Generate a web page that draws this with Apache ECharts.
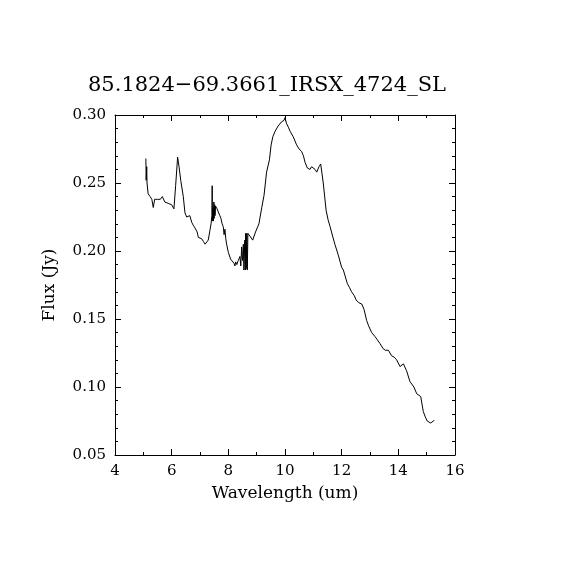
<!DOCTYPE html>
<html>
<head>
<meta charset="utf-8">
<script src="https://cdn.jsdelivr.net/npm/echarts@6/dist/echarts.min.js"></script>
<style>
  html, body { margin: 0; padding: 0; background: #fff; }
  #chart { width: 570px; height: 570px; }
</style>
</head>
<body>
<div id="chart"></div>
<script>
const titleText = '85.1824\u221269.3661_IRSX_4724_SL';

// wavelength (um) and flux (Jy)
const wavelength = [
  5.09, 5.10, 5.12, 5.13, 5.17, 5.24, 5.30, 5.35, 5.40, 5.50, 5.60, 5.67, 5.76, 5.88, 6.00, 6.08,
  6.14, 6.21, 6.26, 6.32, 6.41, 6.47, 6.53, 6.59, 6.64, 6.71, 6.76, 6.82, 6.90, 6.94, 7.00, 7.06,
  7.12, 7.18, 7.24, 7.29, 7.35, 7.39, 7.42, 7.43, 7.44, 7.46, 7.47, 7.49, 7.50, 7.52, 7.53, 7.55,
  7.60, 7.65, 7.70, 7.74, 7.78, 7.82, 7.85, 7.88, 7.91, 7.94, 8.00, 8.08, 8.14, 8.20, 8.23, 8.26,
  8.30, 8.35, 8.41, 8.44, 8.47, 8.50, 8.53, 8.55, 8.58, 8.60, 8.61, 8.63, 8.65, 8.67, 8.69, 8.76,
  8.86, 8.96, 9.08, 9.18, 9.26, 9.35, 9.45, 9.51, 9.57, 9.65, 9.76, 9.88, 9.96, 10.00, 10.05, 10.12,
  10.18, 10.29, 10.41, 10.50, 10.59, 10.65, 10.71, 10.79, 10.88, 10.94, 11.00, 11.06, 11.12, 11.20, 11.26, 11.35,
  11.45, 11.52, 11.59, 11.68, 11.76, 11.88, 12.00, 12.06, 12.12, 12.20, 12.28, 12.35, 12.45, 12.51, 12.60, 12.71,
  12.79, 12.88, 12.95, 13.06, 13.18, 13.25, 13.35, 13.47, 13.55, 13.65, 13.76, 13.85, 13.94, 14.06, 14.12, 14.18,
  14.29, 14.41, 14.55, 14.65, 14.79, 14.88, 14.95, 15.02, 15.14, 15.27
];
const flux = [
  0.268, 0.252, 0.262, 0.250, 0.242, 0.240, 0.238, 0.232, 0.238, 0.238, 0.238, 0.240, 0.236, 0.235, 0.234, 0.231,
  0.248, 0.269, 0.262, 0.252, 0.240, 0.228, 0.225, 0.224, 0.226, 0.221, 0.219, 0.217, 0.214, 0.210, 0.211, 0.209,
  0.207, 0.205, 0.206, 0.208, 0.215, 0.220, 0.226, 0.248, 0.222, 0.232, 0.222, 0.236, 0.224, 0.234, 0.226, 0.233,
  0.231, 0.232, 0.226, 0.224, 0.220, 0.218, 0.212, 0.216, 0.209, 0.205, 0.199, 0.194, 0.193, 0.191, 0.189, 0.192,
  0.190, 0.193, 0.196, 0.189, 0.203, 0.193, 0.205, 0.186, 0.208, 0.186, 0.213, 0.187, 0.213, 0.186, 0.213, 0.211,
  0.208, 0.214, 0.220, 0.232, 0.241, 0.258, 0.267, 0.278, 0.284, 0.288, 0.292, 0.295, 0.296, 0.298, 0.294, 0.291,
  0.288, 0.284, 0.278, 0.275, 0.273, 0.270, 0.265, 0.261, 0.260, 0.262, 0.262, 0.260, 0.258, 0.262, 0.264, 0.250,
  0.230, 0.223, 0.218, 0.211, 0.205, 0.197, 0.188, 0.186, 0.185, 0.176, 0.173, 0.170, 0.167, 0.164, 0.162, 0.161,
  0.157, 0.149, 0.145, 0.140, 0.137, 0.135, 0.132, 0.128, 0.127, 0.127, 0.123, 0.122, 0.120, 0.115, 0.116, 0.117,
  0.112, 0.104, 0.100, 0.095, 0.093, 0.082, 0.078, 0.075, 0.0735, 0.0755
];

const font = 'DejaVu Serif';

function xAxisOpt(pos, showLabel) {
  return {
    type: 'value', position: pos, min: 4, max: 16, interval: 2,
    name: showLabel ? 'Wavelength (um)' : '',
    nameLocation: 'middle', nameGap: 30,
    nameTextStyle: { fontFamily: font, fontSize: 17, color: '#000' },
    axisLine: { show: true, onZero: false, lineStyle: { color: '#000', width: 1 } },
    axisTick: { show: true, inside: true, length: 6, lineStyle: { color: '#000' } },
    minorTick: { show: true, splitNumber: 2, length: 3, lineStyle: { color: '#000' } },
    axisLabel: { show: showLabel, margin: 9, fontFamily: font, fontSize: 15, color: '#000' },
    splitLine: { show: false }
  };
}

function yAxisOpt(pos, showLabel) {
  return {
    type: 'value', position: pos, min: 0.05, max: 0.30, interval: 0.05,
    name: showLabel ? 'Flux (Jy)' : '',
    nameLocation: 'middle', nameGap: 57,
    nameTextStyle: { fontFamily: font, fontSize: 17, color: '#000' },
    axisLine: { show: true, onZero: false, lineStyle: { color: '#000', width: 1 } },
    axisTick: { show: true, inside: true, length: 6, lineStyle: { color: '#000' } },
    minorTick: { show: true, splitNumber: 5, length: 3, lineStyle: { color: '#000' } },
    axisLabel: {
      show: showLabel, margin: 9, fontFamily: font, fontSize: 15, color: '#000',
      formatter: v => v.toFixed(2)
    },
    splitLine: { show: false }
  };
}

const chart = echarts.init(document.getElementById('chart'));
chart.setOption({
  backgroundColor: '#fff',
  animation: false,
  title: {
    text: titleText, left: 262, top: 70, textAlign: 'center',
    textStyle: { fontFamily: font, fontSize: 21, fontWeight: 'normal', color: '#000' }
  },
  grid: { left: 115, top: 115, right: 115, bottom: 115 },
  xAxis: [xAxisOpt('bottom', true), xAxisOpt('top', false)],
  yAxis: [yAxisOpt('left', true), yAxisOpt('right', false)],
  series: [{
    type: 'line',
    xAxisIndex: 0, yAxisIndex: 0,
    data: wavelength.map((w, i) => [w, flux[i]]),
    showSymbol: false,
    lineStyle: { color: '#000', width: 1 }
  }]
});
</script>
</body>
</html>
